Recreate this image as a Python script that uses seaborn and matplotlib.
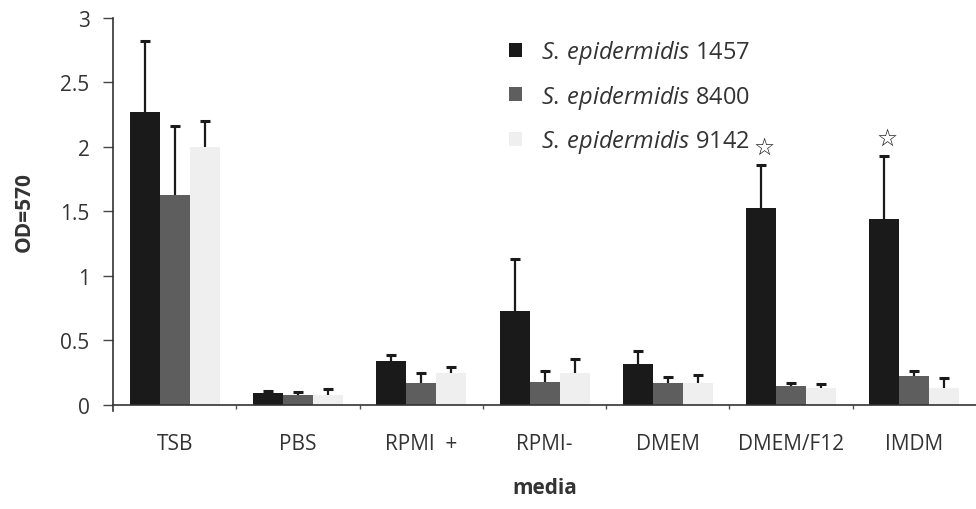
import numpy as np
import pandas as pd
import seaborn as sns
import matplotlib.pyplot as plt

media = ['TSB', 'PBS', 'RPMI  +', 'RPMI-', 'DMEM', 'DMEM/F12', 'IMDM']
strains = [r'$\it{S.\,epidermidis}$ 1457', r'$\it{S.\,epidermidis}$ 8400', r'$\it{S.\,epidermidis}$ 9142']

od_1457 = [2.27, 0.09, 0.34, 0.73, 0.32, 1.53, 1.44]
od_8400 = [1.63, 0.08, 0.17, 0.18, 0.17, 0.15, 0.225]
od_9142 = [2.00, 0.08, 0.245, 0.25, 0.17, 0.13, 0.13]

err_1457 = [0.55, 0.02, 0.05, 0.40, 0.10, 0.33, 0.49]
err_8400 = [0.53, 0.02, 0.075, 0.08, 0.05, 0.02, 0.035]
err_9142 = [0.20, 0.04, 0.05, 0.11, 0.06, 0.03, 0.08]

starred = ['DMEM/F12', 'IMDM']
colors = ['#1a1a1a', '#5e5e5e', '#efefef']

sns.set_style('white')
plt.rcParams['font.family'] = ['Open Sans', 'DejaVu Sans']
plt.rcParams['mathtext.fontset'] = 'custom'
plt.rcParams['mathtext.it'] = 'Open Sans:italic'
plt.rcParams['mathtext.rm'] = 'Open Sans'

df = pd.DataFrame({
    'media': media * 3,
    'strain': [strains[0]] * 7 + [strains[1]] * 7 + [strains[2]] * 7,
    'od': od_1457 + od_8400 + od_9142,
})
errs = [err_1457, err_8400, err_9142]

fig = plt.figure(figsize=(9.76, 5.10), dpi=100)
ax = fig.add_axes([0.116, 0.204, 0.884, 0.759])

sns.barplot(data=df, x='media', y='od', hue='strain', palette=colors,
            width=0.73, saturation=1, linewidth=0, errorbar=None, ax=ax)

# upward-only error bars with a cap on top, all in black
for cont, err in zip(ax.containers, errs):
    xs = np.array([b.get_x() + b.get_width() / 2 for b in cont])
    hs = np.array([b.get_height() for b in cont])
    tops = hs + np.array(err)
    ax.vlines(xs, hs, tops, color='#1a1a1a', lw=1.6)
    ax.hlines(tops, xs - 0.04, xs + 0.04, color='#1a1a1a', lw=2.2)

# significance stars on 1457
for i, m in enumerate(media):
    if m in starred:
        b = ax.containers[0][i]
        ax.text(b.get_x() + b.get_width() / 2 + 0.02, od_1457[i] + err_1457[i] + 0.05, '\u2606',
                ha='center', va='bottom', fontsize=17, family='DejaVu Sans', color='#1a1a1a')

ax.set_ylim(0, 3)
ax.set_xlim(-0.5, 6.5)
ax.set_yticks(np.arange(0, 3.01, 0.5))
ax.set_yticklabels(['0', '0.5', '1', '1.5', '2', '2.5', '3'])
ax.set_xticks(np.arange(0.5, 6, 1), minor=True)
ax.tick_params(axis='y', which='major', left=True, length=7, width=1, color='#444444',
               labelsize=15, labelcolor='#333333', pad=10)
ax.tick_params(axis='x', which='major', bottom=False, labelsize=15, labelcolor='#333333', pad=17)
ax.tick_params(axis='x', which='minor', bottom=True, length=3, width=1, color='#555555')

for s in ['top', 'right']:
    ax.spines[s].set_visible(False)
for s in ['left', 'bottom']:
    ax.spines[s].set_color('#333333')
    ax.spines[s].set_linewidth(1.2)
ax.spines['left'].set_bounds(-0.05, 3)

ax.set_ylabel('OD=570', fontsize=15, fontweight='bold', color='#333333', labelpad=18)
ax.set_xlabel('media', fontsize=15, fontweight='bold', color='#333333', labelpad=16)

ax.legend(frameon=False, loc='upper left', bbox_to_anchor=(0.445, 0.978), fontsize=17,
          handlelength=0.55, handleheight=0.55, labelspacing=0.7, borderpad=0, handletextpad=0.8,
          labelcolor='#333333')

fig.savefig('out.png', dpi=100)
